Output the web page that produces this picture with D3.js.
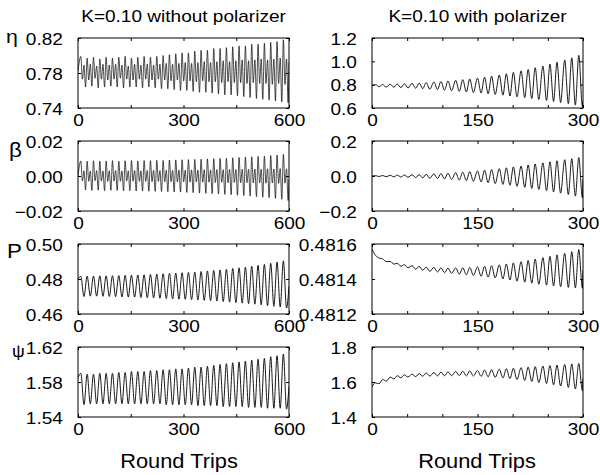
<!DOCTYPE html>
<html><head><meta charset="utf-8">
<script src="https://cdn.jsdelivr.net/npm/d3@7"></script>
<style>
body{margin:0;background:#fff}
svg text{font-family:"Liberation Sans",Arial,Helvetica,sans-serif;fill:#000}
</style></head>
<body><svg id="c" width="600" height="475"></svg>
<script>
// ---------- data ----------
const titles = ["K=0.10 without polarizer", "K=0.10 with polarizer"];
const xLabel = "Round Trips";
const rowLabels = ["η", "β", "P", "ψ"];

const leftXMax = 600, rightXMax = 300;
const leftXLabels = [0, 300, 600];
const rightXLabels = [0, 150, 300];
const leftXMinor = [0, 150, 300, 450, 600];
const rightXMinor = [0, 50, 100, 150, 200, 250, 300];

// times (round trips) of successive oscillation maxima
const leftPeakT = [8,26,44,62,80,98,116,134,152,170,188,206,224,242,260,278,296,314,332,350,368,386,404,422,440,458,476,494,512,530,548,566,584];
const rightPeakT = [5,15,26,36,46,57,67,77,88,98,108,119,129,139,150,160,170,181,191,201,212,222,232,243,253,263,274,284,294];

// ---- left column: without polarizer ----
const etaLYTicks = [0.74, 0.78, 0.82];
const etaLHi = [0.799,0.797,0.798,0.796,0.798,0.797,0.798,0.799,0.797,0.798,0.799,0.798,0.799,0.800,0.801,0.802,0.803,0.803,0.805,0.806,0.806,0.808,0.808,0.809,0.810,0.811,0.811,0.813,0.813,0.814,0.815,0.816,0.818];
const etaLLo = [0.764,0.765,0.763,0.764,0.765,0.764,0.763,0.764,0.764,0.763,0.764,0.763,0.762,0.762,0.761,0.760,0.760,0.759,0.758,0.758,0.757,0.756,0.755,0.755,0.754,0.753,0.752,0.751,0.750,0.749,0.748,0.747,0.746];
const etaLMidHi = [0.789,0.790,0.788,0.790,0.789,0.790,0.789,0.788,0.790,0.789,0.790,0.789,0.790,0.791,0.790,0.791,0.792,0.791,0.792,0.793,0.792,0.793,0.794,0.793,0.794,0.795,0.794,0.795,0.796,0.795,0.796,0.797,0.796];
const etaLMidLo = [0.773,0.772,0.774,0.773,0.772,0.773,0.774,0.773,0.772,0.773,0.773,0.772,0.773,0.772,0.771,0.772,0.771,0.771,0.770,0.771,0.770,0.770,0.769,0.770,0.769,0.769,0.768,0.769,0.768,0.768,0.767,0.768,0.767];
const etaLEnds = [0.782, 0.792];

const betaLYTicks = [-0.02, 0.00, 0.02];
const betaLHi = [0.0086,0.0084,0.0087,0.0085,0.0086,0.0088,0.0085,0.0087,0.0088,0.0086,0.0089,0.0088,0.0090,0.0089,0.0091,0.0092,0.0093,0.0094,0.0095,0.0096,0.0098,0.0099,0.0101,0.0102,0.0104,0.0106,0.0108,0.0110,0.0112,0.0114,0.0117,0.0120,0.0124];
const betaLLo = [-0.0080,-0.0083,-0.0081,-0.0084,-0.0082,-0.0083,-0.0085,-0.0084,-0.0086,-0.0085,-0.0087,-0.0088,-0.0089,-0.0090,-0.0091,-0.0092,-0.0094,-0.0095,-0.0097,-0.0099,-0.0101,-0.0103,-0.0105,-0.0107,-0.0110,-0.0112,-0.0115,-0.0118,-0.0121,-0.0124,-0.0128,-0.0133,-0.0140];
const betaLMidHi = [0.0030,0.0028,0.0031,0.0029,0.0030,0.0031,0.0029,0.0030,0.0032,0.0030,0.0031,0.0032,0.0031,0.0033,0.0032,0.0034,0.0033,0.0035,0.0034,0.0036,0.0035,0.0037,0.0036,0.0038,0.0037,0.0039,0.0038,0.0040,0.0039,0.0041,0.0040,0.0042,0.0041];
const betaLMidLo = [-0.0028,-0.0030,-0.0027,-0.0029,-0.0031,-0.0029,-0.0030,-0.0028,-0.0030,-0.0031,-0.0030,-0.0032,-0.0031,-0.0033,-0.0032,-0.0034,-0.0033,-0.0035,-0.0034,-0.0036,-0.0035,-0.0037,-0.0036,-0.0038,-0.0037,-0.0039,-0.0038,-0.0040,-0.0039,-0.0041,-0.0040,-0.0042,-0.0041];
const betaLEnds = [0.0, -0.002];

const pLYTicks = [0.46, 0.48, 0.50];
const pLHi = [0.4815,0.4816,0.4817,0.4818,0.4818,0.4819,0.4820,0.4821,0.4822,0.4823,0.4824,0.4826,0.4828,0.4830,0.4832,0.4834,0.4836,0.4838,0.4840,0.4843,0.4846,0.4849,0.4852,0.4856,0.4860,0.4864,0.4868,0.4873,0.4878,0.4884,0.4890,0.4897,0.4904];
const pLLo = [0.4700,0.4702,0.4702,0.4701,0.4700,0.4699,0.4698,0.4697,0.4696,0.4694,0.4693,0.4692,0.4690,0.4688,0.4686,0.4685,0.4684,0.4682,0.4680,0.4678,0.4676,0.4674,0.4671,0.4668,0.4665,0.4662,0.4659,0.4656,0.4652,0.4648,0.4644,0.4640,0.4634];
const pLEnds = [0.4800, 0.4760];

const psiLYTicks = [1.54, 1.58, 1.62];
const psiLHi = [1.590,1.589,1.589,1.590,1.590,1.590,1.591,1.591,1.592,1.592,1.592,1.593,1.593,1.594,1.594,1.595,1.595,1.596,1.597,1.597,1.598,1.599,1.600,1.601,1.602,1.603,1.604,1.605,1.606,1.607,1.609,1.610,1.612];
const psiLLo = [1.554,1.555,1.555,1.555,1.555,1.555,1.555,1.555,1.555,1.555,1.555,1.555,1.555,1.554,1.554,1.554,1.554,1.554,1.553,1.553,1.553,1.553,1.552,1.552,1.552,1.552,1.551,1.551,1.551,1.550,1.550,1.550,1.549];
const psiLEnds = [1.585, 1.575];

// ---- right column: with polarizer ----
const etaRYTicks = [0.6, 0.8, 1.0, 1.2];
const etaRHi = [0.800,0.801,0.803,0.805,0.808,0.811,0.814,0.818,0.822,0.827,0.832,0.837,0.843,0.849,0.856,0.864,0.873,0.883,0.894,0.906,0.918,0.931,0.945,0.960,0.976,0.993,1.012,1.030,1.052];
const etaRLo = [0.782,0.780,0.778,0.775,0.772,0.769,0.766,0.762,0.758,0.753,0.748,0.743,0.738,0.733,0.728,0.722,0.716,0.710,0.703,0.696,0.689,0.681,0.673,0.665,0.656,0.647,0.637,0.625,0.612];
const etaREnds = [0.790, 0.660];

const betaRYTicks = [-0.2, 0.0, 0.2];
const betaRHi = [0.002,0.003,0.004,0.005,0.006,0.007,0.008,0.010,0.012,0.014,0.016,0.019,0.022,0.025,0.029,0.033,0.037,0.042,0.047,0.052,0.057,0.063,0.069,0.075,0.081,0.087,0.093,0.099,0.105];
const betaRLo = [-0.003,-0.004,-0.005,-0.006,-0.007,-0.009,-0.011,-0.013,-0.015,-0.017,-0.020,-0.023,-0.026,-0.030,-0.034,-0.038,-0.043,-0.048,-0.053,-0.059,-0.065,-0.071,-0.077,-0.084,-0.091,-0.098,-0.106,-0.115,-0.125];
const betaREnds = [0.0, -0.02];

const pRYTicks = [0.4812, 0.4814, 0.4816];
const pRHi = [0.481535,0.481515,0.481500,0.481490,0.481482,0.481476,0.481472,0.481468,0.481466,0.481464,0.481463,0.481463,0.481464,0.481466,0.481469,0.481472,0.481476,0.481481,0.481486,0.481492,0.481499,0.481506,0.481514,0.481522,0.481530,0.481538,0.481547,0.481556,0.481568];
const pRLo = [0.481520,0.481500,0.481485,0.481473,0.481464,0.481456,0.481450,0.481444,0.481440,0.481436,0.481432,0.481428,0.481424,0.481420,0.481416,0.481411,0.481406,0.481400,0.481394,0.481388,0.481382,0.481376,0.481370,0.481365,0.481360,0.481356,0.481352,0.481349,0.481347];
const pREnds = [0.481570, 0.481450];

const psiRYTicks = [1.4, 1.6, 1.8];
const psiRHi = [1.595,1.615,1.628,1.636,1.641,1.645,1.648,1.651,1.654,1.656,1.658,1.660,1.662,1.664,1.666,1.668,1.670,1.673,1.676,1.679,1.682,1.685,1.688,1.691,1.694,1.697,1.700,1.703,1.706];
const psiRLo = [1.590,1.605,1.617,1.624,1.628,1.631,1.633,1.634,1.635,1.636,1.636,1.636,1.635,1.634,1.632,1.630,1.627,1.623,1.619,1.614,1.609,1.603,1.597,1.591,1.584,1.577,1.569,1.560,1.550];
const psiREnds = [1.574, 1.620];

// ---------- layout ----------
const SX = 1.12;                  // horizontal stretch of the lettering
const cols = [{x0: 78, x1: 289}, {x0: 372, x1: 583}];
const rowTop = [38, 141, 244, 347];
const rowH = 70;

const panels = [
  {row:0,col:0,yt:etaLYTicks,fmt:".2f",hi:etaLHi,lo:etaLLo,mHi:etaLMidHi,mLo:etaLMidLo,ends:etaLEnds},
  {row:1,col:0,yt:betaLYTicks,fmt:".2f",hi:betaLHi,lo:betaLLo,mHi:betaLMidHi,mLo:betaLMidLo,ends:betaLEnds},
  {row:2,col:0,yt:pLYTicks,fmt:".2f",hi:pLHi,lo:pLLo,ends:pLEnds},
  {row:3,col:0,yt:psiLYTicks,fmt:".2f",hi:psiLHi,lo:psiLLo,ends:psiLEnds},
  {row:0,col:1,yt:etaRYTicks,fmt:".1f",hi:etaRHi,lo:etaRLo,ends:etaREnds},
  {row:1,col:1,yt:betaRYTicks,fmt:".1f",hi:betaRHi,lo:betaRLo,ends:betaREnds},
  {row:2,col:1,yt:pRYTicks,fmt:".4f",hi:pRHi,lo:pRLo,ends:pREnds},
  {row:3,col:1,yt:psiRYTicks,fmt:".1f",hi:psiRHi,lo:psiRLo,ends:psiREnds}
];

const svg = d3.select("#c");

function buildSeries(peakT, hi, lo, mHi, mLo, ends, xMax) {
  const period = (peakT[peakT.length - 1] - peakT[0]) / (peakT.length - 1);
  const pts = [[0, ends[0]]];
  peakT.forEach((t, i) => {
    if (mHi) {
      pts.push([t, hi[i]], [t + period / 4, mLo[i]], [t + period / 2, mHi[i]], [t + 3 * period / 4, lo[i]]);
    } else {
      pts.push([t, hi[i]], [t + period / 2, lo[i]]);
    }
  });
  const out = pts.filter(p => p[0] < xMax);
  out.push([xMax, ends[1]]);
  return out;
}

function addText(x, y, str, size, anchor) {
  svg.append("text")
    .attr("transform", `translate(${x},${y}) scale(${SX},1)`)
    .attr("text-anchor", anchor || "middle")
    .attr("font-size", size)
    .text(str);
}

const defs = svg.append("defs");

panels.forEach((p, k) => {
  const c = cols[p.col], top = rowTop[p.row];
  const xMax = p.col === 0 ? leftXMax : rightXMax;
  const peakT = p.col === 0 ? leftPeakT : rightPeakT;
  const xl = p.col === 0 ? leftXLabels : rightXLabels;
  const xm = p.col === 0 ? leftXMinor : rightXMinor;
  const yDom = [p.yt[0], p.yt[p.yt.length - 1]];

  const x = d3.scaleLinear().domain([0, xMax]).range([c.x0, c.x1]);
  const y = d3.scaleLinear().domain(yDom).range([top + rowH, top]);

  defs.append("clipPath").attr("id", "cl" + k)
    .append("rect").attr("x", c.x0).attr("y", top).attr("width", c.x1 - c.x0).attr("height", rowH);

  const series = buildSeries(peakT, p.hi, p.lo, p.mHi, p.mLo, p.ends, xMax);
  svg.append("path")
    .datum(series)
    .attr("clip-path", `url(#cl${k})`)
    .attr("fill", "none")
    .attr("stroke", "#000")
    .attr("stroke-width", p.mHi ? 0.7 : 0.9)
    .attr("d", d3.line().x(d => x(d[0])).y(d => y(d[1])).curve(d3.curveMonotoneX));

  // frame
  svg.append("rect")
    .attr("x", c.x0).attr("y", top).attr("width", c.x1 - c.x0).attr("height", rowH)
    .attr("fill", "none").attr("stroke", "#000").attr("stroke-width", 1);

  // inward minor ticks
  const tb = svg.append("g").attr("transform", `translate(0,${top + rowH})`)
    .call(d3.axisBottom(x).tickValues(xm).tickSize(-3).tickFormat(""));
  const tt = svg.append("g").attr("transform", `translate(0,${top})`)
    .call(d3.axisTop(x).tickValues(xm).tickSize(-3).tickFormat(""));
  const tl = svg.append("g").attr("transform", `translate(${c.x0},0)`)
    .call(d3.axisLeft(y).tickValues(p.yt).tickSize(-3).tickFormat(""));
  const tr = svg.append("g").attr("transform", `translate(${c.x1},0)`)
    .call(d3.axisRight(y).tickValues(p.yt).tickSize(-3).tickFormat(""));
  [tb, tt, tl, tr].forEach(a => { a.select(".domain").remove(); a.selectAll("line").attr("stroke", "#000"); });

  // x tick labels
  const ax = svg.append("g").attr("transform", `translate(0,${top + rowH})`)
    .call(d3.axisBottom(x).tickValues(xl).tickSize(0).tickFormat(d3.format("d")));
  ax.select(".domain").remove();
  ax.selectAll("text").attr("y", 18).attr("dy", null).attr("font-size", 17)
    .attr("font-family", null).attr("transform", `scale(${SX},1)`);

  // y tick labels
  const ay = svg.append("g").attr("transform", `translate(${c.x0},0)`)
    .call(d3.axisLeft(y).tickValues(p.yt).tickSize(0).tickPadding(13.5).tickFormat(d3.format(p.fmt)));
  ay.select(".domain").remove();
  ay.selectAll("text").attr("dy", "0.36em").attr("font-size", 17)
    .attr("font-family", null).attr("transform", `scale(${SX},1)`);
});

// titles
addText((cols[0].x0 + cols[0].x1) / 2, 22, titles[0], 17);
addText((cols[1].x0 + cols[1].x1) / 2, 22, titles[1], 17);
// x labels
addText(179, 468, xLabel, 19.5);
addText(477, 468, xLabel, 19.5);
// row (variable) labels
addText(6, 43, rowLabels[0], 19, "start");
addText(9, 157, rowLabels[1], 20, "start");
addText(7, 258, rowLabels[2], 20, "start");
addText(12, 357, rowLabels[3], 16, "start");
</script></body></html>
